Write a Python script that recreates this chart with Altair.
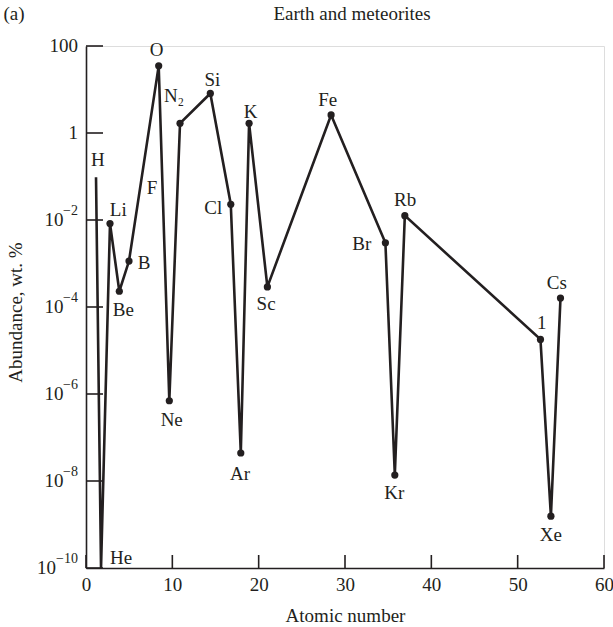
import altair as alt
import pandas as pd

# ---- data ----
elements = ["H", "He", "Li", "Be", "B", "O", "Ne", "N2", "Si", "Cl", "Ar", "K",
            "Sc", "Fe", "Br", "Kr", "Rb", "I", "Xe", "Cs"]
atomic_x = [1.16, 1.74, 2.78, 3.86, 4.98, 8.42, 9.65, 10.89, 14.40, 16.77, 17.93,
            18.89, 21.01, 28.39, 34.68, 35.77, 36.93, 52.64, 53.85, 54.96]
abundance = [0.096, 1e-10, 8.3e-3, 2.3e-4, 1.14e-3, 35, 7e-7, 1.67, 8.1, 0.023,
             4.4e-8, 1.67, 2.9e-4, 2.6, 3.0e-3, 1.37e-8, 0.0126, 1.8e-5, 1.55e-9, 1.6e-4]
has_dot = [False, False] + [True] * 18

label_text = ["H", "He", "Li", "Be", "B", "F", "O", "N₂", "Si", "K", "Cl", "Sc",
              "Ne", "Ar", "Fe", "Br", "Rb", "Cs", "1", "Kr", "Xe"]
label_x = [1.36, 4.06, 3.74, 4.32, 6.72, 7.65, 8.19, 10.2, 14.63, 19.08, 14.75, 20.86,
           9.93, 17.84, 28.0, 31.95, 36.96, 54.54, 52.8, 35.72, 53.85]
label_y = [0.2355, 1.7e-10, 0.01734, 8.4e-5, 1.05e-3, 0.0536, 82.6, 6.98, 16.3, 3.04,
           0.0193, 1.2e-4, 2.58e-7, 1.43e-8, 5.65, 2.87e-3, 0.0284, 3.56e-4, 4.28e-5,
           5.3e-9, 5.86e-10]

x_ticks = [0, 10, 20, 30, 40, 50, 60]
y_ticks = [1e-10, 1e-8, 1e-6, 1e-4, 1e-2, 1, 100]
y_tick_base = ["10", "10", "10", "10", "10", "1", "100"]
y_tick_exp = ["−10", "−8", "−6", "−4", "−2", "", ""]

title_text = "Earth and meteorites"
panel_text = "(a)"
x_title = "Atomic number"
y_title = "Abundance, wt. %"

# ---- build ----
INK = "#231f20"
FONT = "Liberation Serif"
FS = 19
EXP_FS = 14

series = pd.DataFrame({"el": elements, "x": atomic_x, "y": abundance,
                       "order": list(range(len(elements))), "dot": has_dot})
labels = pd.DataFrame({"t": label_text, "x": label_x, "y": label_y})
yticks_df = pd.DataFrame({"v": y_ticks, "base": y_tick_base, "exp": y_tick_exp})

xscale = alt.Scale(domain=[0, 60], nice=False, zero=False)
yscale = alt.Scale(type="log", domain=[1e-10, 100], nice=False)

xaxis = alt.Axis(values=x_ticks, ticks=False, grid=False, domainColor=INK, domainWidth=1.6,
                 labelFont=FONT, labelFontSize=FS, labelColor=INK, labelPadding=7,
                 title=x_title, titleFont=FONT, titleFontSize=FS, titleFontWeight="normal",
                 titleColor=INK, titleX=259, titleY=53, titleBaseline="alphabetic",
                 titleAlign="center", labelFlush=False)
yaxis = alt.Axis(values=y_ticks, ticks=False, grid=False, domainColor=INK, domainWidth=1.6,
                 labels=False,
                 title=y_title, titleFont=FONT, titleFontSize=FS, titleFontWeight="normal",
                 titleColor=INK, titleX=-71, titleY=266, titleAngle=270,
                 titleAlign="center", titleBaseline="middle")

base = alt.Chart(series)
line = base.mark_line(color=INK, strokeWidth=2.6, clip=True).encode(
    x=alt.X("x:Q", scale=xscale, axis=xaxis),
    y=alt.Y("y:Q", scale=yscale, axis=yaxis),
    order="order:Q",
)
dots = base.transform_filter("datum.dot").mark_circle(color=INK, opacity=1, size=52).encode(
    x=alt.X("x:Q", scale=xscale), y=alt.Y("y:Q", scale=yscale))

text = alt.Chart(labels).mark_text(font=FONT, fontSize=FS, color=INK, baseline="middle",
                                   align="center").encode(
    x=alt.X("x:Q", scale=xscale), y=alt.Y("y:Q", scale=yscale), text="t:N")

# y tick labels: base "10" plus a raised exponent
ytl = alt.Chart(yticks_df)
ybase = ytl.transform_calculate(
    off="-length(datum.exp) * 7.3"
).mark_text(font=FONT, fontSize=FS, color=INK, align="right", baseline="middle").encode(
    y=alt.Y("v:Q", scale=yscale), x=alt.value(-8),
    xOffset=alt.XOffset("off:Q", scale=None), text="base:N")
yexp = ytl.mark_text(font=FONT, fontSize=EXP_FS, color=INK, align="right",
                     baseline="middle", dy=-9).encode(
    y=alt.Y("v:Q", scale=yscale), x=alt.value(-8), text="exp:N")

yt = alt.Chart(pd.DataFrame({"v": y_ticks})).mark_rule(color=INK, strokeWidth=1.6).encode(
    y=alt.Y("v:Q", scale=yscale), x=alt.value(0), x2=alt.value(17))
xt = alt.Chart(pd.DataFrame({"v": x_ticks})).mark_rule(color=INK, strokeWidth=1.6).encode(
    x=alt.X("v:Q", scale=xscale), y=alt.value(522), y2=alt.value(509))

ttl = alt.Chart(pd.DataFrame({"t": [title_text]})).mark_text(
    font=FONT, fontSize=FS, color=INK, align="center", baseline="alphabetic").encode(
    text="t:N", x=alt.value(266), y=alt.value(-26))
pnl = alt.Chart(pd.DataFrame({"t": [panel_text]})).mark_text(
    font=FONT, fontSize=FS, color=INK, align="center", baseline="alphabetic").encode(
    text="t:N", x=alt.value(-72), y=alt.value(-26))

chart = alt.layer(line, dots, text, ybase, yexp, yt, xt, ttl, pnl).properties(
    width=518, height=522,
    autosize=alt.AutoSizeParams(type="none"),
    padding={"left": 86, "top": 46, "right": 9, "bottom": 59},
).configure_view(stroke=None).configure(background="white")

chart.save("out.html", embed_options={"renderer": "svg", "actions": False})
